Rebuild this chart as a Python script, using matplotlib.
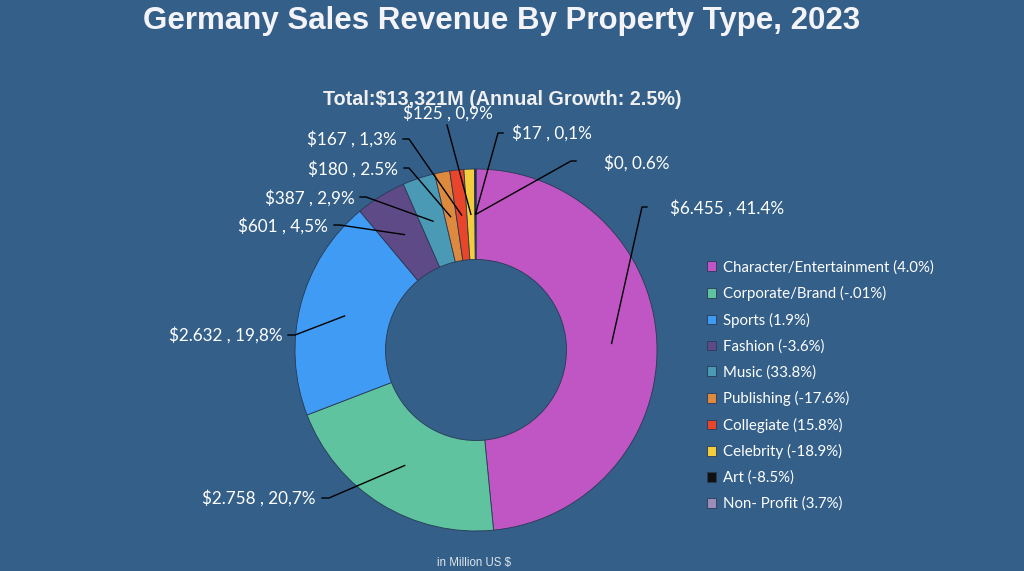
import math
import matplotlib.pyplot as plt

# Data
categories = ["Character/Entertainment", "Corporate/Brand", "Sports", "Fashion", "Music",
              "Publishing", "Collegiate", "Celebrity", "Art", "Non- Profit"]
growth = ["4.0%", "-.01%", "1.9%", "-3.6%", "33.8%", "-17.6%", "15.8%", "-18.9%", "-8.5%", "3.7%"]
revenue = [6455, 2758, 2632, 601, 387, 180, 167, 125, 17, 0]
value_labels = ["$6.455 , 41.4%", "$2.758 , 20,7%", "$2.632 , 19,8%", "$601 , 4,5%",
                "$387 , 2,9%", "$180 , 2.5%", "$167 , 1,3%", "$125 , 0,9%",
                "$17 , 0,1%", "$0, 0.6%"]

colors = ["#C055C4", "#5EC39E", "#409BF5", "#5E4A86", "#4A9AB6",
          "#DD8A3E", "#E8452B", "#F4CD3C", "#111111", "#9C8CBA"]
BG = "#335F89"

H = 571
def px(x, y):
    # pixel position (from top-left) to data coords
    return x, H - y

# label layout: text position, alignment, start of leader line, short horizontal step
label_layout = [
    ((670, 208), "left", (647, 207), -5),
    ((316, 498), "right", (322, 498), 7),
    ((283, 335), "right", (288, 335), 7),
    ((328, 226), "right", (334, 225), 6),
    ((355, 198), "right", (360, 197), 6),
    ((398, 169), "right", (404, 168), 5),
    ((397, 139), "right", (403, 139), 6),
    ((448, 113), "center", (447, 125), 0),
    ((512, 133), "left", (503, 133), -5),
    ((604, 163), "left", (576, 161), -5),
]

fig = plt.figure(figsize=(10.24, 5.71), dpi=100, facecolor=BG)
ax = fig.add_axes([0, 0, 1, 1])
ax.set_facecolor(BG)

cx, cy = px(476, 350)
R = 181
wedges, _ = ax.pie(revenue, colors=colors, startangle=90, counterclock=False,
                   center=(cx, cy), radius=R,
                   wedgeprops=dict(width=R * 0.5, edgecolor="#2a3a55", linewidth=0.6))

ax.set_xlim(0, 1024)
ax.set_ylim(0, H)
ax.set_aspect("equal")
ax.axis("off")

# value labels with leader lines
for w, txt, (tpos, ha, lstart, step) in zip(wedges, value_labels, label_layout):
    mid = math.radians((w.theta1 + w.theta2) / 2)
    tx = cx + 0.75 * R * math.cos(mid)
    ty = cy + 0.75 * R * math.sin(mid)
    sx, sy = px(*lstart)
    ax.plot([sx, sx + step, tx], [sy, sy, ty], color="black", lw=1.0, zorder=5)
    ax.text(*px(*tpos), txt, ha=ha, va="center", color="white",
            fontsize=12.3, family="Lato", zorder=6)

# legend
leg_labels = ["{} ({})".format(c, g) for c, g in zip(categories, growth)]
leg = ax.legend(wedges, leg_labels, loc="upper left", bbox_to_anchor=(0.685, 0.555),
                frameon=False, fontsize=10.8, handlelength=0.6, handleheight=0.6,
                handletextpad=0.45, labelspacing=0.77, borderaxespad=0)
for t in leg.get_texts():
    t.set_color("white")
    t.set_family("Lato")

# titles
fig.text(0.49, 1 - 29 / H, "Germany Sales Revenue By Property Type, 2023", ha="center",
         va="baseline", color="#F4F4F8", fontsize=22.5, fontweight="bold",
         family="Liberation Sans")
fig.text(0.49, 1 - 105 / H, "Total:$13,321M (Annual Growth: 2.5%)", ha="center",
         va="baseline", color="#F0F0F0", fontsize=14.2, fontweight="bold",
         family="Liberation Sans")
fig.text(474 / 1024, 1 - 563 / H, "in Million US $", ha="center", va="center",
         color="#E0E4EC", fontsize=8.3, family="Liberation Sans")

fig.savefig("out.png", dpi=100, facecolor=BG)
